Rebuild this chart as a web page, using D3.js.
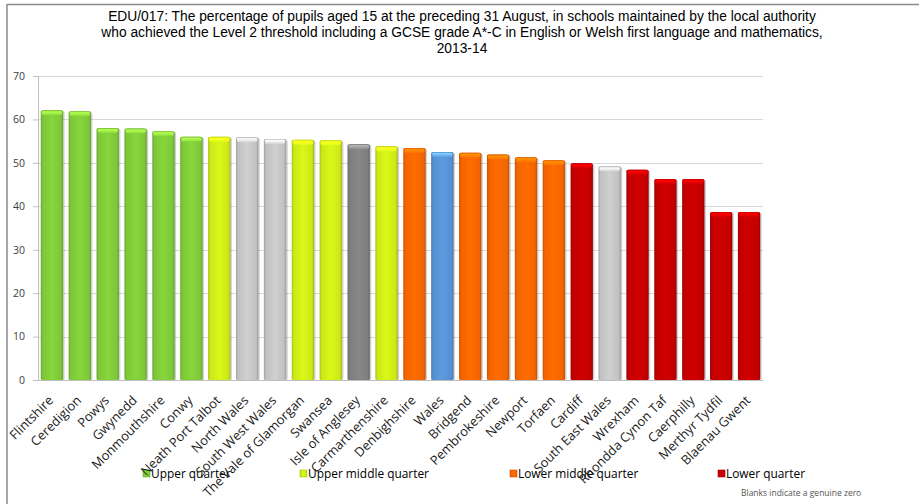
<!DOCTYPE html>
<html>
<head>
<meta charset="utf-8">
<script src="https://cdn.jsdelivr.net/npm/d3@7"></script>
<style>
  html, body { margin: 0; padding: 0; background: #fff; }
  svg { display: block; }
</style>
</head>
<body>
<svg id="chart" width="919" height="504"></svg>
<script>
// EDU/017 – Level 2 threshold incl. English/Welsh and maths, 2013-14
const categories = [
  "Flintshire", "Ceredigion", "Powys", "Gwynedd", "Monmouthshire", "Conwy",
  "Neath Port Talbot", "North Wales", "South West Wales", "The Vale of Glamorgan",
  "Swansea", "Isle of Anglesey", "Carmarthenshire", "Denbighshire", "Wales",
  "Bridgend", "Pembrokeshire", "Newport", "Torfaen", "Cardiff", "South East Wales",
  "Wrexham", "Rhondda Cynon Taf", "Caerphilly", "Merthyr Tydfil", "Blaenau Gwent"
];
const values = [
  62.1, 61.9, 58.0, 57.9, 57.3, 56.0,
  56.0, 55.9, 55.5, 55.3,
  55.2, 54.3, 53.8, 53.4, 52.5,
  52.3, 51.9, 51.3, 50.6, 49.9, 49.2,
  48.4, 46.3, 46.3, 38.7, 38.7
];
const groups = [
  "upper", "upper", "upper", "upper", "upper", "upper",
  "upperMiddle", "region", "region", "upperMiddle",
  "upperMiddle", "selected", "upperMiddle", "lowerMiddle", "wales",
  "lowerMiddle", "lowerMiddle", "lowerMiddle", "lowerMiddle", "lower", "region",
  "lower", "lower", "lower", "lower", "lower"
];
const yTicks = [0, 10, 20, 30, 40, 50, 60, 70];
const legendKeys = ["upper", "upperMiddle", "lowerMiddle", "lower"];
const legendLabels = ["Upper quarter", "Upper middle quarter", "Lower middle quarter", "Lower quarter"];
const titleLines = [
  "EDU/017: The percentage of pupils aged 15 at the preceding 31 August, in schools maintained by the local authority",
  "who achieved the Level 2 threshold including a GCSE grade A*-C in English or Welsh first language and mathematics,",
  "2013-14"
];
const footnote = "Blanks indicate a genuine zero";

const palette = {
  upper: "#84d23a",
  upperMiddle: "#d6f418",
  lowerMiddle: "#ff6a00",
  lower: "#cc0000",
  region: "#cccccc",
  wales: "#5b97dc",
  selected: "#858585"
};

const svg = d3.select("#chart");
const W = 919, H = 504;
const margin = { left: 38, right: 156, top: 76, bottom: 124 };
const plotW = W - margin.left - margin.right;
const plotH = H - margin.top - margin.bottom;

const defs = svg.append("defs");
Object.entries(palette).forEach(([key, col]) => {
  const c = d3.color(col);
  const side = defs.append("linearGradient").attr("id", "side-" + key)
    .attr("x1", 0).attr("x2", 1).attr("y1", 0).attr("y2", 0);
  side.append("stop").attr("offset", "0%").attr("stop-color", c.darker(0.7));
  side.append("stop").attr("offset", "9%").attr("stop-color", c.darker(0.15));
  side.append("stop").attr("offset", "50%").attr("stop-color", c.brighter(0.05));
  side.append("stop").attr("offset", "91%").attr("stop-color", c.darker(0.15));
  side.append("stop").attr("offset", "100%").attr("stop-color", c.darker(0.8));
  const cap = defs.append("linearGradient").attr("id", "cap-" + key)
    .attr("x1", 0).attr("x2", 0).attr("y1", 0).attr("y2", 1);
  cap.append("stop").attr("offset", "0%").attr("stop-color", c.darker(0.4));
  cap.append("stop").attr("offset", "30%").attr("stop-color", c.brighter(0.9));
  cap.append("stop").attr("offset", "100%").attr("stop-color", c.brighter(0.1));
});

// outer frame (top and left edges)
svg.append("line").attr("x1", 7).attr("x2", W).attr("y1", 4.5).attr("y2", 4.5)
  .attr("stroke", "#8a8a8a").attr("stroke-width", 1.5);
svg.append("line").attr("x1", 7).attr("x2", 7).attr("y1", 4).attr("y2", H)
  .attr("stroke", "#8a8a8a").attr("stroke-width", 1.5);

// title
svg.append("g").selectAll("text").data(titleLines).join("text")
  .attr("x", 462).attr("y", (d, i) => 21 + i * 16)
  .attr("text-anchor", "middle")
  .attr("font-family", "Liberation Sans, Arial, sans-serif")
  .attr("font-size", 13.8)
  .attr("fill", "#000")
  .text(d => d);

const x = d3.scaleBand().domain(categories)
  .range([margin.left, margin.left + plotW])
  .paddingInner(0.2).paddingOuter(0.1);
const y = d3.scaleLinear().domain([0, 70]).range([margin.top + plotH, margin.top]);

// gridlines
svg.append("g").selectAll("line").data(yTicks.filter(t => t > 0)).join("line")
  .attr("x1", margin.left).attr("x2", margin.left + plotW)
  .attr("y1", d => Math.round(y(d)) + 0.5).attr("y2", d => Math.round(y(d)) + 0.5)
  .attr("stroke", "#d9d9d9").attr("stroke-width", 1);

// y axis
const yAxis = svg.append("g").attr("transform", `translate(${margin.left},0)`)
  .call(d3.axisLeft(y).tickValues(yTicks).tickSize(5).tickPadding(8));
yAxis.select(".domain").attr("stroke", "#bfbfbf");
yAxis.selectAll(".tick line").attr("stroke", "#bfbfbf");
yAxis.selectAll(".tick text")
  .attr("font-family", "Open Sans, sans-serif").attr("font-size", 10.5).attr("fill", "#404040");

// bars
const barG = svg.append("g").selectAll("g").data(categories).join("g");
barG.append("rect") // soft shadow on the right
  .attr("x", d => x(d) + 1.5).attr("y", (d, i) => y(values[i]) + 1)
  .attr("width", x.bandwidth()).attr("height", (d, i) => y(0) - y(values[i]) - 1)
  .attr("fill", "#000").attr("opacity", 0.18).attr("rx", 1.5);
barG.append("rect")
  .attr("x", d => x(d)).attr("y", (d, i) => y(values[i]))
  .attr("width", x.bandwidth()).attr("height", (d, i) => y(0) - y(values[i]))
  .attr("fill", (d, i) => `url(#side-${groups[i]})`)
  .attr("rx", 1.5);
barG.append("rect") // bevelled top
  .attr("x", d => x(d) + 1).attr("y", (d, i) => y(values[i]))
  .attr("width", x.bandwidth() - 2).attr("height", 5)
  .attr("fill", (d, i) => `url(#cap-${groups[i]})`)
  .attr("rx", 2);

// x axis line
svg.append("line").attr("x1", margin.left).attr("x2", margin.left + plotW)
  .attr("y1", y(0) + 0.5).attr("y2", y(0) + 0.5).attr("stroke", "#bfbfbf");

// legend
const legendX = [143, 300, 510, 718];
const lg = svg.append("g").selectAll("g").data(legendKeys).join("g")
  .attr("transform", (d, i) => `translate(${legendX[i]},474)`);
lg.append("rect").attr("x", 0).attr("y", -4).attr("width", 7).attr("height", 7)
  .attr("fill", d => `url(#side-${d})`)
  .attr("stroke", d => d3.color(palette[d]).darker(0.6)).attr("stroke-width", 0.6);
lg.append("text").attr("x", 8).attr("y", 0).attr("dy", "0.35em")
  .attr("font-family", "Open Sans, sans-serif").attr("font-size", 11.9).attr("fill", "#000")
  .text((d, i) => legendLabels[i]);

// category labels (drawn after the legend, as they overlap it)
svg.append("g").selectAll("text").data(categories).join("text")
  .attr("transform", d => `translate(${x(d) + x.bandwidth() / 2 - 1},${y(0) + 18}) rotate(-45)`)
  .attr("text-anchor", "end")
  .attr("dy", "0.35em")
  .attr("font-family", "Open Sans, sans-serif")
  .attr("font-size", 12.9)
  .attr("fill", "#1a1a1a")
  .text(d => d);

svg.append("text").attr("x", 741).attr("y", 496)
  .attr("font-family", "Open Sans, sans-serif").attr("font-size", 8.5).attr("fill", "#555")
  .text(footnote);
</script>
</body>
</html>
